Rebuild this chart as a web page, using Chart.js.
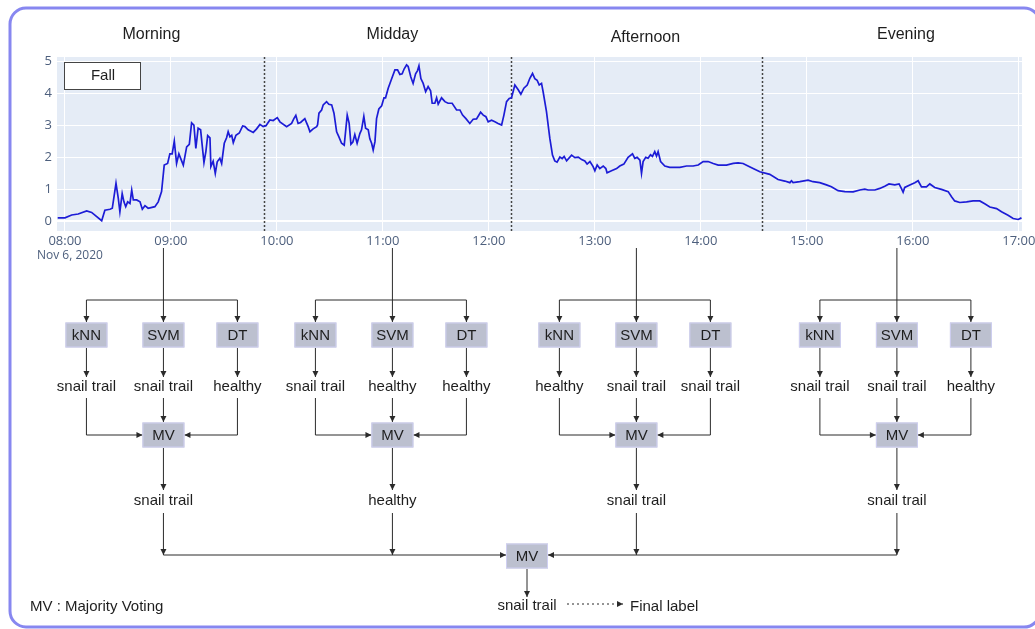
<!DOCTYPE html>
<html>
<head>
<meta charset="utf-8">
<script src="https://cdn.jsdelivr.net/npm/chart.js@4.4.1/dist/chart.umd.min.js"></script>
<style>
  html, body { margin: 0; padding: 0; background: #fff; }
  canvas { display: block; }
</style>
</head>
<body>
<canvas id="myChart" width="1035" height="629"></canvas>
<script>
// time axis: minutes after 08:00
const minutes = [
  -4.1, 0, 3.8, 7.5, 12.3, 15.1, 20.8, 22.6, 25.5, 26.8,
  28.9, 30.2, 31.1, 32.4, 33.4, 34.4, 35.5, 36.8, 37.8, 38.7,
  40.6, 42.5, 43.8, 45.3, 47.1, 50.9, 52.8, 54.7, 56.2, 58.1,
  59.4, 60.7, 61.9, 63.2, 64.5, 67.0, 68.9, 70.4, 71.7, 73.0,
  74.1, 75.4, 76.8, 78.7, 79.8, 80.8, 82.1, 82.6, 83.9, 85.1,
  86.2, 87.7, 88.7, 90.2, 91.5, 92.4, 93.4, 94.4, 95.3, 96.8,
  98.7, 100.6, 101.9, 103.7, 106.6, 108.5, 110.4, 112.2, 113.8, 116.0,
  117.9, 120.2, 121.7, 125.5, 128.3, 129.6, 130.7, 132.0, 133.4, 135.8,
  137.7, 138.7, 140.5, 142.5, 143.0, 143.8, 145.3, 146.2, 148.1, 149.4,
  151.0, 152.3, 153.8, 155.1, 156.6, 158.1, 159.8, 160.9, 161.9, 163.0,
  164.1, 165.4, 167.0, 167.9, 169.2, 170.2, 171.7, 172.6, 173.6, 174.5,
  175.5, 176.4, 177.7, 179.3, 180.6, 181.5, 183.0, 184.9, 186.8, 188.3,
  189.6, 190.9, 192.0, 193.4, 194.3, 195.8, 197.1, 198.5, 199.6, 200.4,
  201.5, 202.8, 204.2, 205.6, 207.0, 207.9, 209.4, 210.4, 211.3, 213.2,
  215.1, 216.9, 219.2, 221.7, 223.6, 225.1, 227.0, 229.2, 231.1, 233.0,
  235.3, 236.8, 238.3, 239.6, 241.5, 243.4, 245.2, 247.2, 248.5, 250.0,
  251.5, 252.8, 254.7, 256.6, 258.1, 259.8, 261.7, 263.2, 264.7, 266.0,
  267.3, 268.5, 269.8, 270.7, 272.6, 274.5, 276.0, 277.3, 278.6, 280.2,
  281.5, 282.6, 284.0, 286.8, 288.7, 290.6, 292.5, 294.3, 295.6, 297.2,
  299.0, 300.0, 301.3, 302.8, 304.7, 306.2, 306.9, 309.4, 312.3, 314.1,
  316.4, 318.8, 321.3, 322.6, 323.9, 325.5, 326.4, 327.3, 328.8, 330.1,
  331.5, 332.6, 333.9, 334.9, 335.8, 337.2, 339.6, 342.4, 348.1, 351.9,
  355.6, 358.5, 361.3, 364.1, 367.0, 369.8, 374.5, 378.3, 381.1, 383.9,
  386.7, 389.6, 393.4, 399.0, 403.7, 407.5, 410.4, 411.3, 412.2, 416.0,
  420.7, 423.5, 427.3, 431.1, 433.9, 437.7, 441.5, 446.2, 450.0, 452.8,
  454.7, 458.5, 461.3, 464.1, 466.5, 469.8, 472.2, 473.5, 474.5, 475.4,
  478.3, 481.1, 483.0, 484.9, 487.7, 489.6, 492.4, 496.2, 500.0, 501.9,
  503.7, 506.6, 510.4, 514.1, 517.9, 520.7, 523.6, 527.4, 530.2, 533.9,
  536.8, 539.6, 541.5
];
const fallValues = [
  0.10, 0.10, 0.19, 0.22, 0.32, 0.27, 0.01, 0.34, 0.37, 0.40,
  1.18, 0.71, 0.29, 0.86, 0.60, 0.45, 0.60, 0.55, 0.97, 0.66,
  0.66, 0.60, 0.37, 0.48, 0.40, 0.45, 0.60, 0.92, 1.75, 1.80,
  2.10, 2.10, 2.50, 1.80, 2.10, 1.75, 2.32, 2.40, 3.07, 3.00,
  2.27, 2.90, 2.85, 1.83, 2.18, 2.67, 2.60, 1.70, 1.87, 1.49,
  1.85, 1.96, 1.80, 2.43, 2.60, 2.79, 2.63, 2.68, 2.45, 2.68,
  2.75, 2.97, 2.95, 2.85, 2.77, 2.88, 3.02, 2.95, 2.98, 3.16,
  3.14, 3.23, 3.10, 2.95, 3.05, 3.20, 3.30, 3.05, 3.08, 3.20,
  2.95, 2.79, 2.88, 2.95, 3.00, 3.37, 3.47, 3.63, 3.73, 3.65,
  3.63, 3.37, 2.79, 2.63, 2.43, 2.37, 3.31, 3.05, 2.40, 2.47,
  2.70, 2.43, 2.74, 2.85, 3.27, 2.90, 2.85, 2.57, 2.43, 2.22,
  2.48, 3.20, 3.50, 3.60, 3.85, 3.85, 4.15, 4.44, 4.72, 4.72,
  4.58, 4.60, 4.75, 4.88, 4.83, 4.50, 4.30, 4.60, 4.70, 4.85,
  4.45, 4.30, 4.04, 4.20, 4.07, 3.68, 3.68, 3.85, 3.65, 3.85,
  3.73, 3.68, 3.68, 3.47, 3.47, 3.31, 3.20, 3.05, 3.18, 3.19,
  3.40, 3.31, 3.26, 3.10, 3.15, 3.10, 3.05, 3.00, 3.31, 3.73,
  3.83, 3.85, 4.25, 4.10, 3.96, 4.15, 4.25, 4.46, 4.61, 4.45,
  4.40, 4.25, 4.30, 4.04, 3.42, 2.58, 2.06, 1.88, 1.84, 2.00,
  1.95, 2.02, 1.88, 2.06, 1.98, 2.00, 1.92, 1.88, 1.78, 1.86,
  1.70, 1.57, 1.75, 1.64, 1.72, 1.64, 1.51, 1.57, 1.64, 1.72,
  1.78, 1.99, 2.10, 1.96, 1.99, 1.90, 1.49, 1.86, 1.99, 1.96,
  2.07, 2.02, 2.17, 2.03, 2.17, 1.86, 1.72, 1.68, 1.68, 1.72,
  1.72, 1.75, 1.86, 1.86, 1.80, 1.75, 1.75, 1.80, 1.82, 1.80,
  1.72, 1.64, 1.54, 1.46, 1.30, 1.25, 1.20, 1.26, 1.20, 1.23,
  1.28, 1.23, 1.20, 1.13, 1.07, 0.95, 0.92, 0.91, 0.97, 1.00,
  0.97, 0.97, 1.02, 1.09, 1.16, 1.13, 1.16, 1.02, 0.90, 1.05,
  1.13, 1.20, 1.26, 1.07, 1.07, 1.16, 1.05, 0.99, 0.92, 0.76,
  0.63, 0.58, 0.60, 0.63, 0.63, 0.54, 0.44, 0.39, 0.29, 0.18,
  0.08, 0.05, 0.10
];
const hourLabels = ['08:00', '09:00', '10:00', '11:00', '12:00', '13:00', '14:00', '15:00', '16:00', '17:00'];
const yTicks = [0, 1, 2, 3, 4, 5];
const dateLabel = 'Nov 6, 2020';

// periods of the day and where they split (minutes after 08:00)
const periods = ['Morning', 'Midday', 'Afternoon', 'Evening'];
const splitMinutes = [112.6, 252.5, 394.5];

// classifier votes per period
const models = ['kNN', 'SVM', 'DT'];
const modelVotes = [
  ['snail trail', 'snail trail', 'healthy'],
  ['snail trail', 'healthy', 'healthy'],
  ['healthy', 'snail trail', 'snail trail'],
  ['snail trail', 'snail trail', 'healthy']
];
const periodVotes = ['snail trail', 'healthy', 'snail trail', 'snail trail'];
const finalVote = 'snail trail';

const TEXT_FONT = '"Liberation Sans", Arial, sans-serif';
// small hand nudges so titles / diagram columns sit where the original put them
const titleNudge = [-9, 5, 9, 14];
const columnNudge = [3, 5, 0, 5];

function arrow(ctx, pts, dashed) {
  ctx.save();
  ctx.strokeStyle = '#2b2b2b';
  ctx.fillStyle = '#2b2b2b';
  ctx.lineWidth = 1;
  if (dashed) ctx.setLineDash([2, 3]);
  ctx.beginPath();
  ctx.moveTo(pts[0][0], pts[0][1]);
  for (let i = 1; i < pts.length; i++) ctx.lineTo(pts[i][0], pts[i][1]);
  ctx.stroke();
  ctx.setLineDash([]);
  const [x1, y1] = pts[pts.length - 2];
  const [x2, y2] = pts[pts.length - 1];
  const a = Math.atan2(y2 - y1, x2 - x1);
  const L = 6, W = 3;
  ctx.beginPath();
  ctx.moveTo(x2, y2);
  ctx.lineTo(x2 - L * Math.cos(a) + W * Math.sin(a), y2 - L * Math.sin(a) - W * Math.cos(a));
  ctx.lineTo(x2 - L * Math.cos(a) - W * Math.sin(a), y2 - L * Math.sin(a) + W * Math.cos(a));
  ctx.closePath();
  ctx.fill();
  ctx.restore();
}

function line(ctx, pts) {
  ctx.save();
  ctx.strokeStyle = '#2b2b2b';
  ctx.lineWidth = 1;
  ctx.beginPath();
  ctx.moveTo(pts[0][0], pts[0][1]);
  for (let i = 1; i < pts.length; i++) ctx.lineTo(pts[i][0], pts[i][1]);
  ctx.stroke();
  ctx.restore();
}

function box(ctx, cx, cy, text) {
  ctx.save();
  ctx.fillStyle = '#bcc0cf';
  ctx.fillRect(cx - 21, cy - 12.5, 42, 25);
  ctx.strokeStyle = '#cfcff2';
  ctx.lineWidth = 1;
  ctx.strokeRect(cx - 21 + 0.5, cy - 12.5 + 0.5, 41, 24);
  label(ctx, cx, cy + 1, text);
  ctx.restore();
}

function label(ctx, x, y, text, align) {
  ctx.save();
  ctx.fillStyle = '#1e1e1e';
  ctx.font = '15px ' + TEXT_FONT;
  ctx.textAlign = align || 'center';
  ctx.textBaseline = 'middle';
  ctx.fillText(text, x, y);
  ctx.restore();
}

function periodCenters(chart) {
  const xs = chart.scales.x;
  const a = chart.chartArea;
  const edges = [a.left].concat(splitMinutes.map(m => xs.getPixelForValue(m)), [a.right]);
  return periods.map((p, i) => (edges[i] + edges[i + 1]) / 2);
}

const decor = {
  id: 'decor',
  beforeDraw(chart) {
    const {ctx, chartArea: a} = chart;
    ctx.save();
    ctx.fillStyle = '#fff';
    ctx.fillRect(0, 0, chart.width, chart.height);
    ctx.strokeStyle = '#8787f0';
    ctx.lineWidth = 3;
    ctx.beginPath();
    ctx.roundRect(10, 8, 1030, 619, 16);
    ctx.stroke();
    ctx.fillStyle = '#e5ecf6';
    ctx.fillRect(a.left, a.top, a.right - a.left, a.bottom - a.top);
    ctx.restore();
  },
  beforeDatasetsDraw(chart) {
    const {ctx, chartArea: a} = chart;
    ctx.save();
    ctx.strokeStyle = '#444';
    ctx.lineWidth = 1.5;
    ctx.setLineDash([2, 2]);
    splitMinutes.forEach(m => {
      const x = Math.round(chart.scales.x.getPixelForValue(m)) + 0.5;
      ctx.beginPath();
      ctx.moveTo(x, a.top);
      ctx.lineTo(x, a.bottom);
      ctx.stroke();
    });
    ctx.restore();
  },
  afterDraw(chart) {
    const {ctx, chartArea: a} = chart;
    const mids = periodCenters(chart);

    // period titles
    ctx.save();
    ctx.fillStyle = '#1e1e1e';
    ctx.font = '16px ' + TEXT_FONT;
    ctx.textAlign = 'center';
    ctx.textBaseline = 'middle';
    periods.forEach((p, i) => ctx.fillText(p, mids[i] + titleNudge[i], i === 2 ? 38 : 35));
    ctx.restore();

    // series name box
    ctx.save();
    ctx.fillStyle = '#fff';
    ctx.fillRect(a.left + 7, a.top + 5, 77, 28);
    ctx.strokeStyle = '#444';
    ctx.lineWidth = 1;
    ctx.strokeRect(a.left + 7.5, a.top + 5.5, 76, 27);
    ctx.restore();
    label(ctx, a.left + 46, a.top + 19, chart.data.datasets[0].label);

    // date under first tick
    ctx.save();
    ctx.fillStyle = '#4d5f7d';
    ctx.font = '12px "Open Sans", sans-serif';
    ctx.textAlign = 'center';
    ctx.textBaseline = 'middle';
    ctx.fillText(dateLabel, chart.scales.x.getPixelForValue(0) + 5, 256);
    ctx.restore();

    // voting diagram
    const centers = mids.map((c, i) => c + columnNudge[i]);
    const offs = [-77, 0, 74];
    centers.forEach((cx, g) => {
      arrow(ctx, [[cx, 248], [cx, 322]]);
      line(ctx, [[cx + offs[0], 300], [cx + offs[2], 300]]);
      arrow(ctx, [[cx + offs[0], 300], [cx + offs[0], 322]]);
      arrow(ctx, [[cx + offs[2], 300], [cx + offs[2], 322]]);
      models.forEach((m, k) => {
        const x = cx + offs[k];
        box(ctx, x, 335, m);
        arrow(ctx, [[x, 348], [x, 377]]);
        label(ctx, x, 387, modelVotes[g][k]);
      });
      arrow(ctx, [[cx + offs[0], 398], [cx + offs[0], 435], [cx - 21, 435]]);
      arrow(ctx, [[cx + offs[2], 398], [cx + offs[2], 435], [cx + 21, 435]]);
      arrow(ctx, [[cx, 398], [cx, 422]]);
      box(ctx, cx, 435, 'MV');
      arrow(ctx, [[cx, 448], [cx, 490]]);
      label(ctx, cx, 501, periodVotes[g]);
      arrow(ctx, [[cx, 513], [cx, 555]]);
    });

    const fx = 527, fy = 556;
    arrow(ctx, [[centers[0], 555], [fx - 21, 555]]);
    arrow(ctx, [[centers[3], 555], [fx + 21, 555]]);
    box(ctx, fx, fy, 'MV');
    arrow(ctx, [[fx, 569], [fx, 597]]);
    label(ctx, fx, 606, finalVote);
    arrow(ctx, [[567, 604], [623, 604]], true);
    label(ctx, 630, 607, 'Final label', 'left');
    label(ctx, 30, 607, 'MV : Majority Voting', 'left');
  }
};

Chart.defaults.font.family = '"Open Sans", sans-serif';

const myCtx = document.getElementById('myChart').getContext('2d');
const myChart = new Chart(myCtx, {
  type: 'line',
  data: {
    datasets: [{
      label: 'Fall',
      data: minutes.map((m, i) => ({x: m, y: fallValues[i]})),
      borderColor: '#1c1cd6',
      borderWidth: 1.7,
      pointRadius: 0,
      tension: 0
    }]
  },
  options: {
    responsive: false,
    animation: false,
    layout: {padding: {top: 57, right: 13, left: 0, bottom: 0}},
    plugins: {
      legend: {display: false},
      tooltip: {enabled: false}
    },
    scales: {
      x: {
        type: 'linear',
        min: -4.5,
        max: 541.8,
        afterBuildTicks: s => { s.ticks = hourLabels.map((l, i) => ({value: i * 60})); },
        afterFit: s => { s.height = 629 - 231; s.paddingLeft = 0; s.paddingRight = 0; },
        ticks: {
          callback: v => hourLabels[Math.round(v / 60)],
          color: '#4d5f7d',
          font: {size: 13},
          padding: 2,
          maxRotation: 0,
          autoSkip: false
        },
        grid: {color: '#ffffff', lineWidth: 1, drawTicks: false},
        border: {display: false}
      },
      y: {
        min: -0.31,
        max: 5.125,
        afterBuildTicks: s => { s.ticks = yTicks.map(v => ({value: v})); },
        afterFit: s => { s.width = 57; s.paddingTop = 0; s.paddingBottom = 0; },
        ticks: {color: '#4d5f7d', font: {size: 13}, padding: 5},
        grid: {
          color: '#ffffff',
          lineWidth: c => (c.tick && c.tick.value === 0 ? 2 : 1),
          drawTicks: false
        },
        border: {display: false}
      }
    }
  },
  plugins: [decor]
});
</script>
</body>
</html>
